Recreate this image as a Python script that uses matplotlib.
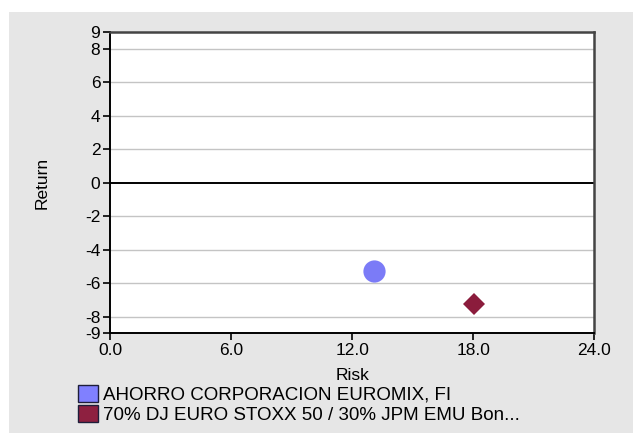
import matplotlib
matplotlib.use("Agg")
import matplotlib.pyplot as plt
from matplotlib.patches import Rectangle, Patch

plt.rcParams['font.family'] = ['Liberation Sans', 'DejaVu Sans']

# ---- data ----
names = ['AHORRO CORPORACION EUROMIX, FI',
         '70% DJ EURO STOXX 50 / 30% JPM EMU Bon...']
risk = [13.1, 18.05]
ret = [-5.30, -7.24]
markers = ['o', 'D']
colors = ['#7b7bf7', '#8b1c3c']
legend_colors = ['#8080ff', '#8e2040']
xticks = [0, 6, 12, 18, 24]
xtick_labels = ['0.0', '6.0', '12.0', '18.0', '24.0']
yticks = [9, 8, 6, 4, 2, 0, -2, -4, -6, -8, -9]
ytick_labels = ['9', '8', '6', '4', '2', '0', '-2', '-4', '-6', '-8', '-9']
grid_y = [8, 6, 4, 2, -2, -4, -6, -8]

W, H = 633, 433
fig = plt.figure(figsize=(W / 100, H / 100), dpi=100, facecolor='white')
bg = Rectangle((9 / W, 0), 1 - 9 / W, (H - 12) / H,
               transform=fig.transFigure, facecolor='#e6e6e6',
               edgecolor='none', zorder=-10)
fig.patches.append(bg)

ax = fig.add_axes([110 / W, 1 - 333.3 / H, (594.3 - 110) / W, (333.3 - 32.3) / H])
ax.set_zorder(1)
ax.set_facecolor('white')
ax.set_xlim(0, 24)
ax.set_ylim(-9, 9)

for g in grid_y:
    ax.axhline(g, color='#c4c4c4', lw=1.0, zorder=1)
ax.axhline(0, color='black', lw=1.4, zorder=2)

sizes = [16, 11]
for x, y, m, c, s in zip(risk, ret, markers, colors, sizes):
    ax.plot([x], [y], marker=m, color=c, markersize=s, linestyle='none',
            markeredgewidth=0, zorder=3)

ax.set_xticks(xticks)
ax.set_xticklabels(xtick_labels, fontsize=12.5)
ax.set_yticks(yticks)
ax.set_yticklabels(ytick_labels, fontsize=12.5)
ax.tick_params(axis='both', direction='out', length=5, width=1.2, color='black', pad=2)

for side in ['left', 'bottom']:
    ax.spines[side].set_color('black')
    ax.spines[side].set_linewidth(1.4)
for side in ['top', 'right']:
    ax.spines[side].set_color('#444444')
    ax.spines[side].set_linewidth(1.8)

ax.set_xlabel('Risk', fontsize=12.5)
ax.set_ylabel('Return', fontsize=12.5)
ax.xaxis.set_label_coords(0.5, (333.3 - 375) / (333.3 - 32.3), transform=ax.transAxes)
ax.yaxis.set_label_coords((41.7 - 110) / (594.3 - 110), 0.5, transform=ax.transAxes)
ax.xaxis.label.set_va('center')
ax.yaxis.label.set_va('center')

handles = [Patch(facecolor=c, edgecolor='#1e1e3a', linewidth=1.0) for c in legend_colors]
fig.legend(handles, names, loc='upper left', bbox_to_anchor=(78 / W, 1 - 385 / H),
           frameon=False, fontsize=13.5, handlelength=1.05, handleheight=1.0,
           handletextpad=0.3, labelspacing=0.05, borderpad=0, borderaxespad=0)

fig.savefig('out.png', dpi=100, facecolor='white')
